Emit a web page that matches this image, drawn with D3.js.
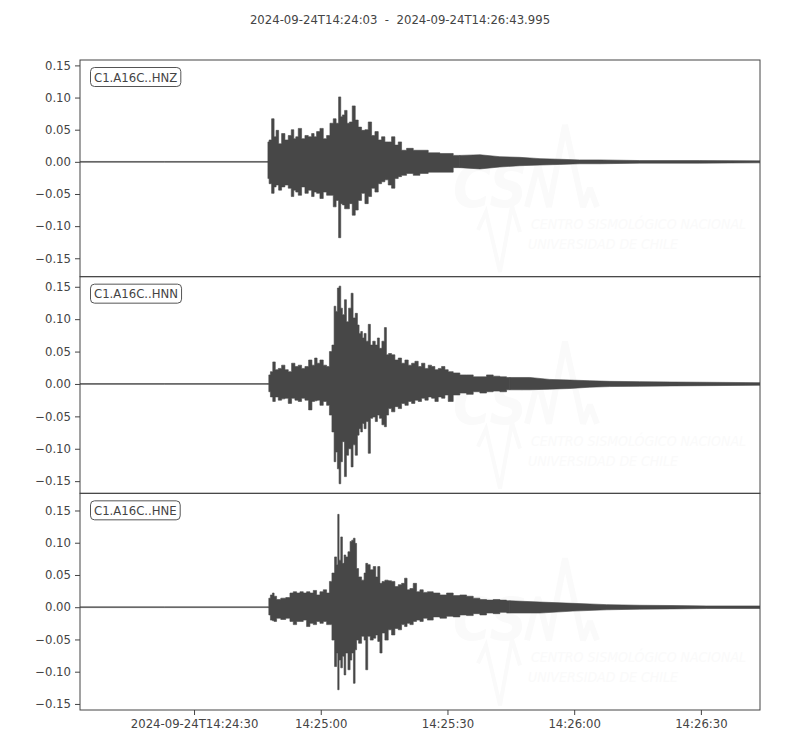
<!DOCTYPE html>
<html>
<head>
<meta charset="utf-8">
<script src="https://cdn.jsdelivr.net/npm/d3@7"></script>
<style>
body { margin: 0; background: #fff; }
svg { font-family: "DejaVu Sans", sans-serif; }
</style>
</head>
<body>
<div id="container"></div>
<script>
// trace start (UTC) and length in seconds
const startTime = Date.UTC(2024, 8, 24, 14, 24, 3);
const traceLength = 160.995;
const titleText = "2024-09-24T14:24:03  -  2024-09-24T14:26:43.995";
const channelNames = ["C1.A16C..HNZ", "C1.A16C..HNN", "C1.A16C..HNE"];

const yTicks = [-0.15, -0.10, -0.05, 0, 0.05, 0.10, 0.15];
const xTickSeconds = [27, 57, 87, 117, 147];
const xTickLabels = ["2024-09-24T14:24:30", "14:25:00", "14:25:30", "14:26:00", "14:26:30"];

// y limits of each panel
const hnzLimits = [-0.1786, 0.1584];
const hnnLimits = [-0.1688, 0.1656];
const hneLimits = [-0.1594, 0.1766];

// envelopes: seconds after start, upper and lower amplitude
const hnzTime = [0, 20, 44.4,
    44.58, 44.97, 45.76, 46.15, 46.71, 47.34, 48.12, 48.91, 49.70, 50.34,
    50.89, 51.28, 52.07, 52.86, 53.65, 54.44, 55.23, 55.62, 56.41, 57.20,
    57.99, 58.78, 59.57, 60.36, 60.91, 61.54, 61.93, 62.33, 62.96, 63.51,
    64.06, 64.85, 65.48, 66.27, 67.06, 67.85, 68.64, 69.43, 70.22, 71.01,
    71.79, 72.58, 73.37, 74.16, 74.95, 75.74, 76.53, 78.11, 79.69, 81.26,
    83.63, 86.79, 89.94,
    94.7, 99.4, 104.1, 108.9, 113.6, 118.3, 123.1, 132.5, 146.7, 161];
const hnzUpper = [0.0006, 0.0006, 0.0006,
    0.031, 0.034, 0.067, 0.039, 0.049, 0.028, 0.044, 0.034, 0.041, 0.050,
    0.036, 0.039, 0.052, 0.036, 0.041, 0.039, 0.044, 0.039, 0.047, 0.052,
    0.036, 0.041, 0.060, 0.067, 0.060, 0.101, 0.070, 0.073, 0.080, 0.060,
    0.062, 0.087, 0.065, 0.054, 0.049, 0.050, 0.062, 0.041, 0.047, 0.034,
    0.039, 0.031, 0.031, 0.039, 0.026, 0.031, 0.018, 0.021, 0.018, 0.018,
    0.014, 0.013, 0.010,
    0.011, 0.008, 0.007, 0.005, 0.004, 0.003, 0.003, 0.002, 0.002, 0.0015];
const hnzLower = [-0.0006, -0.0006, -0.0006,
    -0.026, -0.034, -0.049, -0.039, -0.036, -0.044, -0.039, -0.036, -0.041, -0.054,
    -0.044, -0.047, -0.052, -0.039, -0.049, -0.044, -0.054, -0.047, -0.049, -0.057,
    -0.047, -0.052, -0.052, -0.070, -0.060, -0.118, -0.065, -0.067, -0.073, -0.073,
    -0.065, -0.083, -0.075, -0.060, -0.049, -0.065, -0.054, -0.041, -0.047, -0.034,
    -0.031, -0.028, -0.036, -0.041, -0.026, -0.023, -0.021, -0.018, -0.021, -0.018,
    -0.016, -0.016, -0.009,
    -0.011, -0.008, -0.006, -0.005, -0.004, -0.003, -0.003, -0.002, -0.002, -0.0015];

const hnnTime = [0, 20, 44.6,
    44.81, 45.36, 45.92, 46.55, 47.34, 48.13, 48.91, 49.70, 50.49, 51.28,
    52.07, 52.86, 53.65, 54.60, 55.23, 55.86, 56.41, 57.20, 57.99, 58.78,
    59.33, 59.96, 60.36, 60.75, 61.14, 61.54, 61.93, 62.33, 62.88, 63.27,
    63.91, 64.46, 64.85, 65.48, 65.88, 66.27, 66.67, 67.06, 67.46, 68.01,
    68.48, 69.03, 69.59, 70.22, 70.61, 71.16, 71.79, 72.35, 72.74, 73.37,
    74.16, 74.95, 75.74, 76.53, 77.32, 78.11, 78.90, 79.68, 80.47, 81.26,
    82.05, 82.84, 83.63, 84.42, 85.21, 86.00, 86.79, 87.57, 89.15, 90.73,
    92.31, 93.89, 95.46, 97.04, 98.62, 100.2, 101.78,
    106.5, 111.2, 116.0, 120.7, 125.4, 132.5, 140.4, 148.4, 161];
const hnnUpper = [0.0006, 0.0006, 0.0006,
    0.014, 0.019, 0.034, 0.022, 0.024, 0.029, 0.022, 0.019, 0.032, 0.027,
    0.029, 0.024, 0.027, 0.037, 0.029, 0.040, 0.032, 0.037, 0.029, 0.027,
    0.050, 0.060, 0.120, 0.112, 0.148, 0.151, 0.117, 0.107, 0.130, 0.096,
    0.117, 0.140, 0.102, 0.109, 0.091, 0.078, 0.081, 0.071, 0.078, 0.066,
    0.092, 0.060, 0.066, 0.060, 0.071, 0.055, 0.066, 0.087, 0.045, 0.047,
    0.045, 0.037, 0.040, 0.032, 0.037, 0.029, 0.032, 0.035, 0.027, 0.032,
    0.024, 0.029, 0.027, 0.022, 0.024, 0.027, 0.022, 0.019, 0.017, 0.014,
    0.014, 0.011, 0.011, 0.014, 0.012, 0.011, 0.010,
    0.010, 0.007, 0.006, 0.005, 0.004, 0.0036, 0.003, 0.0026, 0.002];
const hnnLower = [-0.0006, -0.0006, -0.0006,
    -0.012, -0.020, -0.027, -0.020, -0.025, -0.023, -0.022, -0.030, -0.022, -0.025,
    -0.027, -0.022, -0.025, -0.040, -0.027, -0.026, -0.025, -0.033, -0.027, -0.033,
    -0.048, -0.074, -0.120, -0.105, -0.131, -0.154, -0.120, -0.089, -0.143, -0.110,
    -0.100, -0.128, -0.094, -0.110, -0.079, -0.069, -0.074, -0.061, -0.069, -0.058,
    -0.107, -0.053, -0.051, -0.058, -0.048, -0.053, -0.063, -0.066, -0.048, -0.038,
    -0.043, -0.035, -0.038, -0.030, -0.033, -0.027, -0.030, -0.025, -0.027, -0.022,
    -0.025, -0.020, -0.022, -0.027, -0.020, -0.022, -0.017, -0.027, -0.017, -0.014,
    -0.016, -0.012, -0.014, -0.012, -0.011, -0.012, -0.009,
    -0.009, -0.008, -0.007, -0.005, -0.004, -0.0036, -0.003, -0.0026, -0.002];

const hneTime = [0, 20, 44.6,
    44.81, 45.36, 45.76, 46.15, 46.94, 48.13, 49.31, 50.10, 50.89, 51.68,
    52.47, 53.25, 54.04, 54.83, 55.62, 56.41, 57.20, 57.99, 58.78, 59.33,
    59.96, 60.59, 60.91, 61.14, 61.54, 61.93, 62.33, 62.72, 63.12, 63.75,
    64.14, 64.54, 64.93, 65.33, 65.64, 66.27, 67.06, 67.46, 67.85, 68.40,
    69.03, 69.82, 70.22, 70.77, 71.24, 71.79, 72.58, 73.37, 74.16, 74.95,
    75.74, 76.53, 77.16, 77.71, 78.50, 79.29, 80.08, 80.87, 81.66, 82.84,
    84.42, 86.00, 87.57, 89.15, 90.73, 92.31, 93.89, 95.46, 97.04, 98.62,
    100.2, 101.78,
    108.9, 116.7, 124.7, 132.5, 140.4, 148.4, 161];
const hneUpper = [0.0006, 0.0006, 0.0006,
    0.014, 0.019, 0.022, 0.017, 0.012, 0.014, 0.015, 0.022, 0.024, 0.022,
    0.024, 0.022, 0.024, 0.022, 0.026, 0.019, 0.024, 0.027, 0.022, 0.040,
    0.053, 0.078, 0.066, 0.144, 0.073, 0.109, 0.068, 0.081, 0.078, 0.086,
    0.102, 0.104, 0.107, 0.099, 0.060, 0.047, 0.042, 0.053, 0.068, 0.066,
    0.058, 0.063, 0.047, 0.063, 0.037, 0.040, 0.042, 0.041, 0.040, 0.032,
    0.035, 0.037, 0.045, 0.027, 0.029, 0.037, 0.024, 0.027, 0.023, 0.024,
    0.022, 0.019, 0.022, 0.018, 0.019, 0.017, 0.014, 0.012, 0.011, 0.012,
    0.011, 0.010,
    0.008, 0.006, 0.004, 0.003, 0.0026, 0.002, 0.002];
const hneLower = [-0.0006, -0.0006, -0.0006,
    -0.012, -0.020, -0.021, -0.022, -0.017, -0.019, -0.017, -0.022, -0.027, -0.022,
    -0.022, -0.020, -0.030, -0.025, -0.027, -0.022, -0.025, -0.022, -0.027, -0.027,
    -0.051, -0.092, -0.071, -0.128, -0.082, -0.094, -0.076, -0.105, -0.071, -0.097,
    -0.082, -0.071, -0.118, -0.066, -0.051, -0.056, -0.045, -0.051, -0.097, -0.045,
    -0.051, -0.048, -0.043, -0.053, -0.071, -0.040, -0.051, -0.035, -0.043, -0.033,
    -0.035, -0.027, -0.030, -0.025, -0.027, -0.022, -0.020, -0.022, -0.017, -0.020,
    -0.015, -0.017, -0.014, -0.015, -0.012, -0.013, -0.010, -0.012, -0.009, -0.010,
    -0.008, -0.009,
    -0.009, -0.006, -0.004, -0.003, -0.0026, -0.002, -0.002];

document.addEventListener("DOMContentLoaded", () => {
    const channels = [
        {name: channelNames[0], time: hnzTime, upper: hnzUpper, lower: hnzLower, limits: hnzLimits},
        {name: channelNames[1], time: hnnTime, upper: hnnUpper, lower: hnnLower, limits: hnnLimits},
        {name: channelNames[2], time: hneTime, upper: hneUpper, lower: hneLower, limits: hneLimits}
    ];
    makeChart(channels);
});

function makeChart(channels) {
    const w = 800;
    const h = 750;
    const left = 80, right = 760, top = 60, bottom = 710;
    const panelH = (bottom - top) / channels.length;
    const fs = 11.7;
    const ink = "#444";
    const traceColor = "#474747";
    const faint = "#fafafa";
    const toDate = (s) => new Date(startTime + s * 1000);

    const xScale = d3.scaleUtc()
        .domain([toDate(0), toDate(traceLength)])
        .range([left, right]);

    const svg = d3.select("#container")
        .append("svg")
        .attr("width", w)
        .attr("height", h);

    svg.append("text")
        .attr("x", 400)
        .attr("y", 24)
        .attr("text-anchor", "middle")
        .attr("font-size", fs)
        .attr("fill", ink)
        .style("white-space", "pre")
        .text(titleText);

    channels.forEach((ch, i) => {
        const y0 = top + i * panelH;
        const yScale = d3.scaleLinear()
            .domain(ch.limits)
            .range([y0 + panelH, y0]);

        svg.append("clipPath")
            .attr("id", "clip" + i)
            .append("rect")
            .attr("x", left).attr("y", y0)
            .attr("width", right - left).attr("height", panelH);

        const g = svg.append("g").attr("clip-path", "url(#clip" + i + ")");

        // CSN watermark
        const wm = g.append("g").attr("transform", "translate(0," + y0 + ")");
        wm.append("text")
            .attr("x", 453).attr("y", 147)
            .attr("font-size", 58).attr("font-weight", "bold").attr("font-style", "italic")
            .attr("textLength", 74).attr("lengthAdjust", "spacingAndGlyphs")
            .attr("fill", faint)
            .text("CS");
        wm.append("path")
            .attr("d", "M527,147 L538,104 L549,147 L565,65 L583,147 L590,128 L597,147")
            .attr("fill", "none").attr("stroke", faint).attr("stroke-width", 6)
            .attr("stroke-linejoin", "bevel");
        wm.append("path")
            .attr("d", "M478,170 L486,152 L500,212 L512,146 L520,172")
            .attr("fill", "none").attr("stroke", faint).attr("stroke-width", 4);
        wm.append("text")
            .attr("x", 531).attr("y", 169)
            .attr("font-family", "DejaVu Sans Condensed")
            .attr("font-size", 13.5).attr("font-style", "italic")
            .attr("textLength", 215).attr("lengthAdjust", "spacingAndGlyphs")
            .attr("fill", faint)
            .text("CENTRO SISMOLÓGICO NACIONAL");
        wm.append("text")
            .attr("x", 528).attr("y", 189)
            .attr("font-family", "DejaVu Sans Condensed")
            .attr("font-size", 13.5).attr("font-style", "italic")
            .attr("textLength", 150).attr("lengthAdjust", "spacingAndGlyphs")
            .attr("fill", faint)
            .text("UNIVERSIDAD DE CHILE");

        const pts = ch.time.map((t, k) => ({date: toDate(t), t: t, hi: ch.upper[k], lo: ch.lower[k]}));

        // dense readings (strong motion) are drawn as steps, sparse ones (quiet parts) as straight runs
        const gap = 3.5;
        const first = pts.findIndex((d, k) => k < pts.length - 1 && pts[k + 1].t - d.t < gap);
        let last = first;
        while (last < pts.length - 1 && pts[last + 1].t - pts[last].t < gap) last++;

        const areaOf = (curve) => d3.area()
            .curve(curve)
            .x((d) => xScale(d.date))
            .y0((d) => yScale(d.lo))
            .y1((d) => yScale(d.hi));

        const parts = [
            {data: pts.slice(0, first + 1), curve: d3.curveLinear},
            {data: pts.slice(first, last + 1), curve: d3.curveStep},
            {data: pts.slice(last), curve: d3.curveLinear}
        ];

        parts.forEach((p) => {
            g.append("path")
                .datum(p.data)
                .attr("class", "trace")
                .attr("d", areaOf(p.curve))
                .attr("fill", traceColor)
                .attr("stroke", traceColor)
                .attr("stroke-width", 0.6);
        });

        // frame
        svg.append("rect")
            .attr("x", left).attr("y", y0)
            .attr("width", right - left).attr("height", panelH)
            .attr("fill", "none")
            .attr("stroke", ink)
            .attr("stroke-width", 1);

        const yAxis = d3.axisLeft(yScale)
            .tickValues(yTicks)
            .tickSize(5)
            .tickPadding(4)
            .tickFormat(d3.format(".2f"));

        const ya = svg.append("g")
            .attr("class", "y-axis")
            .attr("transform", "translate(" + left + ",0)")
            .call(yAxis);
        ya.select(".domain").remove();
        ya.selectAll("line").attr("stroke", ink);
        ya.selectAll("text")
            .attr("font-size", fs)
            .attr("font-family", "DejaVu Sans")
            .attr("fill", ink);

        // channel label box
        const lg = svg.append("g").attr("class", "label");
        const box = lg.append("rect");
        const lab = lg.append("text")
            .attr("x", 94)
            .attr("y", y0 + 21.5)
            .attr("font-size", fs)
            .attr("fill", ink)
            .text(ch.name);
        const tw = lab.node().getComputedTextLength();
        box.attr("x", 90.5).attr("y", y0 + 7.5)
            .attr("width", tw + 7).attr("height", 19)
            .attr("rx", 4)
            .attr("fill", "#fff")
            .attr("stroke", "#555")
            .attr("stroke-width", 1);
    });

    const xAxis = d3.axisBottom(xScale)
        .tickValues(xTickSeconds.map(toDate))
        .tickSize(5)
        .tickPadding(5)
        .tickFormat((d, i) => xTickLabels[i]);

    const xa = svg.append("g")
        .attr("class", "x-axis")
        .attr("transform", "translate(0," + bottom + ")")
        .call(xAxis);
    xa.select(".domain").remove();
    xa.selectAll("line").attr("stroke", ink);
    xa.selectAll("text")
        .attr("font-size", fs)
        .attr("font-family", "DejaVu Sans")
        .attr("fill", ink);
}
</script>
</body>
</html>
